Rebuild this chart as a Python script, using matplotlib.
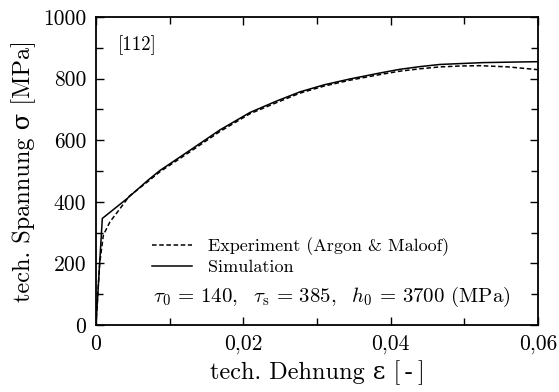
import matplotlib
matplotlib.use("Agg")
import matplotlib.pyplot as plt
from matplotlib.lines import Line2D
from matplotlib.ticker import MultipleLocator, FuncFormatter

# values
strain_sim = [0, 0.00086, 0.0042, 0.0071, 0.0087, 0.0128, 0.0168, 0.0209,
              0.0245, 0.0277, 0.0310, 0.0345, 0.0385, 0.0412, 0.0440,
              0.0467, 0.0526, 0.0600]
stress_sim = [0, 346, 410, 471, 502, 568, 633, 690, 727, 757, 780, 799,
              818, 830, 839, 846, 852, 855]

strain_exp = [0, 0.0005, 0.001, 0.0019, 0.0033, 0.0045, 0.0071, 0.0087,
              0.0128, 0.0168, 0.0209, 0.0245, 0.0277, 0.0310, 0.0345,
              0.0385, 0.0412, 0.0440, 0.0467, 0.0495, 0.0521, 0.0560, 0.0600]
stress_exp = [0, 200, 292, 335, 379, 418, 467, 498, 563, 628, 686, 722,
              753, 776, 795, 813, 824, 832, 838, 841, 842, 838, 829]

labels = ['Experiment (Argon & Maloof)', 'Simulation']
orientation = '[112]'
params = (r'$\tau_0 \,=\, 140,\ \ \tau_\mathrm{s} \,=\, 385,\ \ '
          r'h_0 \,=\, 3700$ (MPa)')

plt.rcParams['font.family'] = ['cmr10', 'DejaVu Serif']
plt.rcParams['mathtext.fontset'] = 'cm'
plt.rcParams['axes.unicode_minus'] = False

fig = plt.figure(figsize=(5.59, 3.92), dpi=100)
ax = fig.add_axes([0.1717, 0.1709, 0.7907, 0.7857])

ax.plot(strain_exp, stress_exp, color='black', lw=1.1, ls=(0, (3, 1.7)))
ax.plot(strain_sim, stress_sim, color='black', lw=1.1)

ax.set_xlim(0, 0.06)
ax.set_ylim(0, 1000)
ax.xaxis.set_major_locator(MultipleLocator(0.02))
ax.xaxis.set_minor_locator(MultipleLocator(0.01))
ax.yaxis.set_major_locator(MultipleLocator(200))
ax.yaxis.set_minor_locator(MultipleLocator(100))
ax.xaxis.set_major_formatter(FuncFormatter(
    lambda v, p: '0' if abs(v) < 1e-9 else f'{v:.2f}'.replace('.', ',')))
ax.tick_params(which='both', direction='in', top=True, right=True,
               width=1.0, labelsize=15.5, pad=7)
ax.tick_params(which='major', length=6)
ax.tick_params(which='minor', length=5)
for s in ax.spines.values():
    s.set_linewidth(1.3)

ax.set_xlabel('tech. Dehnung ε [\u2009-\u2009]', fontsize=17.5, labelpad=4)
ax.set_ylabel('tech. Spannung σ [MPa]', fontsize=17.5, labelpad=5)

handles = [Line2D([], [], color='black', lw=1.1, ls=(0, (3, 1.7))),
           Line2D([], [], color='black', lw=1.1)]
ax.legend(handles, labels, loc='upper left', bbox_to_anchor=(0.127, 0.285),
          frameon=False, fontsize=13, handlelength=2.2, handletextpad=0.9,
          labelspacing=0.2, borderpad=0, borderaxespad=0)

ax.text(0.0029, 909, orientation, fontsize=13.5, va='center', ha='left')
ax.text(0.0077, 91, params, fontsize=15, va='center', ha='left')

fig.savefig('out.png', dpi=100)
